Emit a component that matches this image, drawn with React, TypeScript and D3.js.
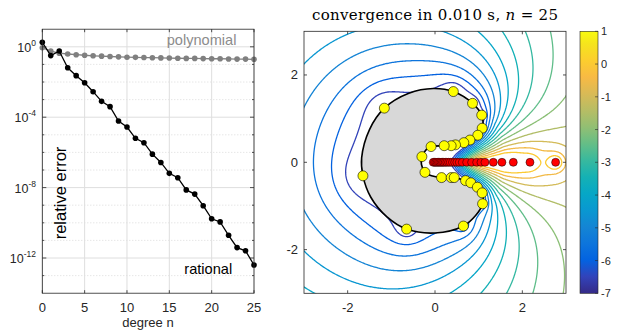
import React, { useMemo } from 'react'
import * as d3 from 'd3'

// ---- left panel: relative error vs degree n (log10 values)
const degrees = [0, 1, 2, 3, 4, 5, 6, 7, 8, 9, 10, 11, 12, 13, 14, 15, 16, 17, 18, 19, 20, 21, 22, 23, 24, 25]
const polyLog10 = [-0.05, -0.24, -0.36, -0.41, -0.45, -0.48, -0.51, -0.53, -0.55, -0.57, -0.59, -0.6, -0.61, -0.62, -0.63, -0.64, -0.65, -0.66, -0.66, -0.67, -0.68, -0.68, -0.69, -0.7, -0.7, -0.71]
const ratLog10 = [0.26, -0.5, -0.24, -1.19, -1.64, -2.04, -2.55, -3.1, -3.4, -4.22, -4.56, -5.2, -5.45, -6.1, -6.57, -7.19, -7.44, -8.13, -8.37, -9.03, -9.77, -9.95, -10.71, -11.41, -11.59, -12.4]
const degreeTicks = [0, 5, 10, 15, 20, 25]
const errTickExps = [0, -4, -8, -12]

// ---- right panel: support points, poles, domain outline
const supportX = [-1.16, 0.42, 0.86, 1.07, 1.08, 0.98, 0.8, 0.66, 0.47, 0.37, 0.21, -0.09, -0.3, -0.23, 0.15, 0.37, 0.44, 0.7, 0.82, 0.97, 1.08, 1.09, 0.65, -0.65, -1.65]
const supportY = [1.24, 1.62, 1.35, 1.08, 0.78, 0.62, 0.51, 0.45, 0.4, 0.38, 0.38, 0.36, 0.13, -0.23, -0.35, -0.35, -0.35, -0.42, -0.47, -0.57, -0.7, -0.95, -1.46, -1.53, -0.31]
const poleX = [-0.04, -0.01, 0.02, 0.05, 0.08, 0.11, 0.14, 0.17, 0.2, 0.235, 0.27, 0.31, 0.35, 0.4, 0.45, 0.5, 0.557, 0.625, 0.725, 0.839, 0.954, 1.053, 1.144, 1.335, 1.533, 1.793, 2.175, 2.762]
const outlineX = [1.08, 1.07, 0.86, 0.42, -0.04, -0.6, -1.16, -1.5, -1.68, -1.65, -1.47, -1.1, -0.65, 0.0, 0.65, 0.93, 1.09, 1.08, 0.97, 0.82, 0.7, 0.44, 0.15, -0.08, -0.23, -0.31, -0.3, -0.2, -0.09, 0.21, 0.47, 0.66, 0.8, 0.98]
const outlineY = [0.78, 1.08, 1.35, 1.62, 1.69, 1.58, 1.24, 0.75, 0.1, -0.31, -0.8, -1.25, -1.53, -1.62, -1.46, -1.22, -0.95, -0.7, -0.57, -0.47, -0.42, -0.35, -0.35, -0.31, -0.23, -0.05, 0.13, 0.29, 0.36, 0.38, 0.4, 0.45, 0.51, 0.62]
const contourLevels = [-6.5, -6, -5.5, -5, -4.5, -4, -3.5, -3, -2.5, -2, -1.5, -1, -0.5, 0]
const planeTicks = [-2, 0, 2]
const cbarTicks = [1, 0, -1, -2, -3, -4, -5, -6, -7]

// points on the contour lines: x, y, level, weight
const traceX = [-2.85, -3.0, -1.95, -0.8, -3.0, -1.56, 0.34, -2.43, -1.95, -0.8, 0.34, -2.33, -0.42, 0.34, -1.56, -0.8, 0.04, -2.21, -1.56, -0.57, 0.34, 0.8, 1.2, 1.55, 1.95, 2.3, 2.86, 2.95, 2.95, 2.95, 2.95, 2.95, 2.95, 0.57, 1.1, 1.41, 1.79, 2.1, 2.59, 2.76, 2.58, 2.2, 2.2, 1.49, 1.49, 2.2, 2.2, -1.92, -1.87, -1.34, -0.65, -1.47, -1.47, -0.4, -1.21, 0.1]
const traceY = [0, 1.84, 2.8, 3.0, -1.66, -2.77, -2.62, 0, 2.4, 2.42, 2.39, -1.93, -2.35, -2.24, 1.84, 1.96, 1.81, -0.2, -1.55, -1.97, -1.89, 2.95, 2.95, 2.95, 2.95, 2.95, 2.95, 1.43, 0.86, 0.44, -0.32, -0.97, -1.66, -2.95, -2.95, -2.95, -2.95, -2.95, -2.95, 0.17, 0, 0.38, -0.25, 0.25, -0.15, 0.7, -0.65, 0, -0.5, 1.5, -1.78, 0.87, -0.79, 1.65, -1.13, -1.61]
const traceLevel = [-5, -5, -5, -5, -5, -5, -5, -5.5, -5.5, -5.5, -5.5, -5.5, -5.5, -5.5, -6, -6, -6, -6, -6, -6, -6, -4.5, -4, -3.5, -3, -2.5, -2, -1.5, -1, -0.5, -0.5, -1, -1.5, -4.5, -4, -3.5, -3, -2.5, -2, 0, 0, -0.5, -0.5, -0.5, -0.5, -1, -1, -6.5, -6.5, -6.5, -6.5, -6.35, -6.35, -6.35, -6.35, -6.35]
const traceWeight = [1, 1, 1, 1, 1, 1, 1, 1, 1, 1, 1, 1, 1, 1, 1, 1, 1, 1, 1, 1, 1, 1, 1, 1, 1, 1, 1, 1, 1, 1, 1, 1, 1, 1, 1, 1, 1, 1, 1, 6, 6, 1, 1, 1, 1, 1, 1, 3, 3, 3, 3, 3, 3, 3, 3, 3]

// parula
const parula = ['#352a87', '#3243ba', '#0363e1', '#0d75dc', '#1485d4', '#0998d1', '#06a7c6', '#15b1b4', '#38b99e', '#65be86', '#92bf73', '#b7bd64', '#d9ba56', '#f8ba44', '#fcce2e', '#f5e41d', '#f9fb0e']
const parulaPos = [0, 4, 8, 12, 16, 20, 24, 28, 32, 36, 40, 44, 48, 52, 56, 60, 63].map(i => i / 63)

const W = 625
const H = 331
const SANS = '"Liberation Sans", Arial, Helvetica, sans-serif'
const AX = '#262626'

const ring = { cx: -0.04, cy: 0.04, r: 1.65 }
const lastPoleReach = 0.3
const grid = { x0: -3.5, y0: -3.5, step: 0.025, n: 281 }

// basis terms of the error surface: const, zeros, pole groups, ring growth, direction from the mouth
function basis(x: number, y: number) {
  let z = 0
  for (let k = 0; k < supportX.length; k++) {
    const dx = x - supportX[k], dy = y - supportY[k]
    z += Math.log10(dx * dx + dy * dy + 1e-12)
  }
  let pIn = 0, pMid = 0, pLast = 0
  const last = poleX.length - 1
  for (let k = 0; k < poleX.length; k++) {
    const dx = x - poleX[k]
    const d2 = dx * dx + y * y + 1e-12
    if (k === last) pLast = Math.log10(1 + (lastPoleReach * lastPoleReach) / d2)
    else if (poleX[k] < 0.6) pIn -= Math.log10(d2)
    else pMid -= Math.log10(d2)
  }
  const rc = Math.hypot(x - ring.cx, y - ring.cy)
  return [1, 0.5 * z, 0.5 * pIn, 0.5 * pMid, 0.5 * pLast, Math.log10(Math.max(rc, ring.r) / ring.r), x / Math.sqrt(x * x + y * y + 0.04)]
}

function fitWeights() {
  const rows = traceX.map((tx, i) => basis(tx, traceY[i]))
  const m = rows[0].length
  const A = d3.range(m).map(i => d3.range(m).map(j => d3.sum(rows, (r, k) => traceWeight[k] * r[i] * r[j]) + (i === j && i > 0 ? 0.05 : 0)))
  const b = d3.range(m).map(i => d3.sum(rows, (r, k) => traceWeight[k] * r[i] * traceLevel[k]))
  for (let c = 0; c < m; c++) {
    let piv = c
    for (let r = c + 1; r < m; r++) if (Math.abs(A[r][c]) > Math.abs(A[piv][c])) piv = r
    ;[A[c], A[piv]] = [A[piv], A[c]]
    ;[b[c], b[piv]] = [b[piv], b[c]]
    for (let r = 0; r < m; r++) {
      if (r === c) continue
      const f = A[r][c] / A[c][c]
      for (let k = c; k < m; k++) A[r][k] -= f * A[c][k]
      b[r] -= f * b[c]
    }
  }
  return b.map((v, i) => v / A[i][i])
}

function LeftPanel() {
  const x = d3.scaleLinear().domain([0, 25]).range([42.3, 254])
  const y = d3.scaleLog().domain([1e-14, 1e1]).range([293.2, 29.2])
  const [x0, x1] = x.range()
  const [y0, y1] = y.range()
  const decades = d3.range(-14, 2)
  const line = d3.line<number>().x((_, i) => x(degrees[i])).y(v => y(10 ** v))

  return (
    <g fontFamily={SANS}>
      {decades.filter(e => e % 4 !== 0 && e > -14 && e < 1).map(e => (
        <line key={'m' + e} x1={x0} x2={x1} y1={y(10 ** e)} y2={y(10 ** e)} stroke="#c4c4c4" strokeWidth={0.6} strokeDasharray="1,2" />
      ))}
      {errTickExps.map(e => (
        <line key={'g' + e} x1={x0} x2={x1} y1={y(10 ** e)} y2={y(10 ** e)} stroke="#dedede" strokeWidth={1} />
      ))}
      {degreeTicks.map(t => (
        <line key={'gx' + t} x1={x(t)} x2={x(t)} y1={y1} y2={y0} stroke="#dedede" strokeWidth={1} />
      ))}

      <path d={line(polyLog10) || ''} fill="none" stroke="#808080" strokeWidth={1.3} />
      {polyLog10.map((v, i) => <circle key={'p' + i} cx={x(degrees[i])} cy={y(10 ** v)} r={2.8} fill="#808080" />)}
      <path d={line(ratLog10) || ''} fill="none" stroke="#000" strokeWidth={1.3} />
      {ratLog10.map((v, i) => <circle key={'r' + i} cx={x(degrees[i])} cy={y(10 ** v)} r={2.8} fill="#000" />)}

      <rect x={x0} y={y1} width={x1 - x0} height={y0 - y1} fill="none" stroke={AX} strokeWidth={0.8} />
      {degreeTicks.map(t => (
        <g key={'tx' + t}>
          <line x1={x(t)} x2={x(t)} y1={y0} y2={y0 - 3} stroke={AX} strokeWidth={0.8} />
          <line x1={x(t)} x2={x(t)} y1={y1} y2={y1 + 3} stroke={AX} strokeWidth={0.8} />
          <text x={x(t)} y={312} textAnchor="middle" fontSize={13} fill={AX}>{t}</text>
        </g>
      ))}
      {decades.filter(e => e > -14 && e < 1).map(e => {
        const len = e % 4 === 0 ? 4 : 2
        return (
          <g key={'ty' + e}>
            <line x1={x0} x2={x0 + len} y1={y(10 ** e)} y2={y(10 ** e)} stroke={AX} strokeWidth={0.8} />
            <line x1={x1} x2={x1 - len} y1={y(10 ** e)} y2={y(10 ** e)} stroke={AX} strokeWidth={0.8} />
          </g>
        )
      })}
      {errTickExps.map(e => (
        <text key={'ly' + e} x={36} y={y(10 ** e) + 5} textAnchor="end" fontSize={12.5} fill={AX}>
          10<tspan dy={-6} fontSize={8.5}>{e}</tspan>
        </text>
      ))}
      <text x={148} y={327} textAnchor="middle" fontSize={13} fill={AX}>degree n</text>
      <text transform="translate(65.5,193) rotate(-90)" textAnchor="middle" fontSize={16.5} fill="#000">relative error</text>
      <text x={166.7} y={44.7} fontSize={14.6} fill="#8c8c8c">polynomial</text>
      <text x={184.3} y={273.5} fontSize={14.6} fill="#000">rational</text>
    </g>
  )
}

function RightPanel() {
  const x = d3.scaleLinear().domain([-3, 3]).range([304, 566])
  const y = d3.scaleLinear().domain([-3, 3]).range([293.3, 31.3])
  const [x0, x1] = x.range()
  const [y0, y1] = y.range()
  const color = d3.scaleLinear<string>().domain(parulaPos.map(t => -7 + 8 * t)).range(parula).interpolate(d3.interpolateRgb)
  const cb = d3.scaleLinear().domain([-7, 1]).range([y0, y1])

  const paths = useMemo(() => {
    const { x0: gx0, y0: gy0, step, n } = grid
    const w = fitWeights()
    const vals: number[] = new Array(n * n)
    for (let j = 0; j < n; j++) {
      for (let i = 0; i < n; i++) {
        const bs = basis(gx0 + i * step, gy0 + j * step)
        let s = 0
        for (let k = 0; k < bs.length; k++) s += w[k] * bs[k]
        vals[j * n + i] = s
      }
    }
    const proj = d3.geoTransform({
      point(px: number, py: number) {
        this.stream.point(x(gx0 + (px - 0.5) * step), y(gy0 + (py - 0.5) * step))
      }
    })
    const gp = d3.geoPath(proj)
    return d3.contours().size([n, n]).thresholds(contourLevels)(vals).map(cn => ({ level: cn.value, d: gp(cn as any) || '' }))
  }, [])

  const outline = d3.line<number>().x(i => x(outlineX[i])).y(i => y(outlineY[i])).curve(d3.curveCatmullRomClosed.alpha(0.5))
  const idx = outlineX.map((_, i) => i)

  return (
    <g fontFamily={SANS}>
      <defs>
        <clipPath id="plane-clip"><rect x={x0} y={y1} width={x1 - x0} height={y0 - y1} /></clipPath>
        <linearGradient id="cbar-grad" x1="0" y1="1" x2="0" y2="0">
          {parula.map((c, i) => <stop key={i} offset={parulaPos[i]} stopColor={c} />)}
        </linearGradient>
      </defs>
      <g clipPath="url(#plane-clip)">
        {paths.map(p => <path key={p.level} d={p.d} fill="none" stroke={color(p.level)} strokeWidth={1.3} />)}
        <path d={outline(idx) || ''} fill="#d8d8d8" stroke="#000" strokeWidth={1.6} />
        {poleX.map((px, i) => <circle key={'pl' + i} cx={x(px)} cy={y(0)} r={4} fill="#ff0000" stroke="#000" strokeWidth={0.5} />)}
        {supportX.map((sx, i) => <circle key={'sp' + i} cx={x(sx)} cy={y(supportY[i])} r={5} fill="#ffff00" stroke="#000" strokeWidth={0.6} />)}
      </g>
      <rect x={x0} y={y1} width={x1 - x0} height={y0 - y1} fill="none" stroke={AX} strokeWidth={0.8} />
      {planeTicks.map(t => (
        <g key={'pt' + t}>
          <line x1={x(t)} x2={x(t)} y1={y0} y2={y0 - 3} stroke={AX} strokeWidth={0.8} />
          <line x1={x(t)} x2={x(t)} y1={y1} y2={y1 + 3} stroke={AX} strokeWidth={0.8} />
          <line x1={x0} x2={x0 + 3} y1={y(t)} y2={y(t)} stroke={AX} strokeWidth={0.8} />
          <line x1={x1} x2={x1 - 3} y1={y(t)} y2={y(t)} stroke={AX} strokeWidth={0.8} />
          <text x={x(t)} y={312} textAnchor="middle" fontSize={13} fill={AX}>{t < 0 ? '-' + Math.abs(t) : String(t)}</text>
          <text x={298} y={y(t) + 4.5} textAnchor="end" fontSize={13} fill={AX}>{t < 0 ? '-' + Math.abs(t) : String(t)}</text>
        </g>
      ))}
      <text x={435} y={19.5} textAnchor="middle" fontFamily='"DejaVu Serif", serif' fontSize={15} fill="#000" textLength={246} lengthAdjust="spacing">
        convergence in 0.010 s, <tspan fontStyle="italic">n</tspan> = 25
      </text>

      <rect x={580} y={y1} width={18} height={y0 - y1} fill="url(#cbar-grad)" stroke={AX} strokeWidth={0.6} />
      {cbarTicks.map(t => (
        <g key={'cb' + t}>
          <line x1={598} x2={595} y1={cb(t)} y2={cb(t)} stroke={AX} strokeWidth={0.6} />
          <text x={601} y={cb(t) + 4} fontSize={11} fill={AX}>{t < 0 ? '-' + Math.abs(t) : String(t)}</text>
        </g>
      ))}
    </g>
  )
}

export default function App() {
  return (
    <svg width={W} height={H} style={{ position: 'absolute', left: 0, top: 0, background: '#fff' }}>
      <rect width={W} height={H} fill="#fff" />
      <LeftPanel />
      <RightPanel />
    </svg>
  )
}
